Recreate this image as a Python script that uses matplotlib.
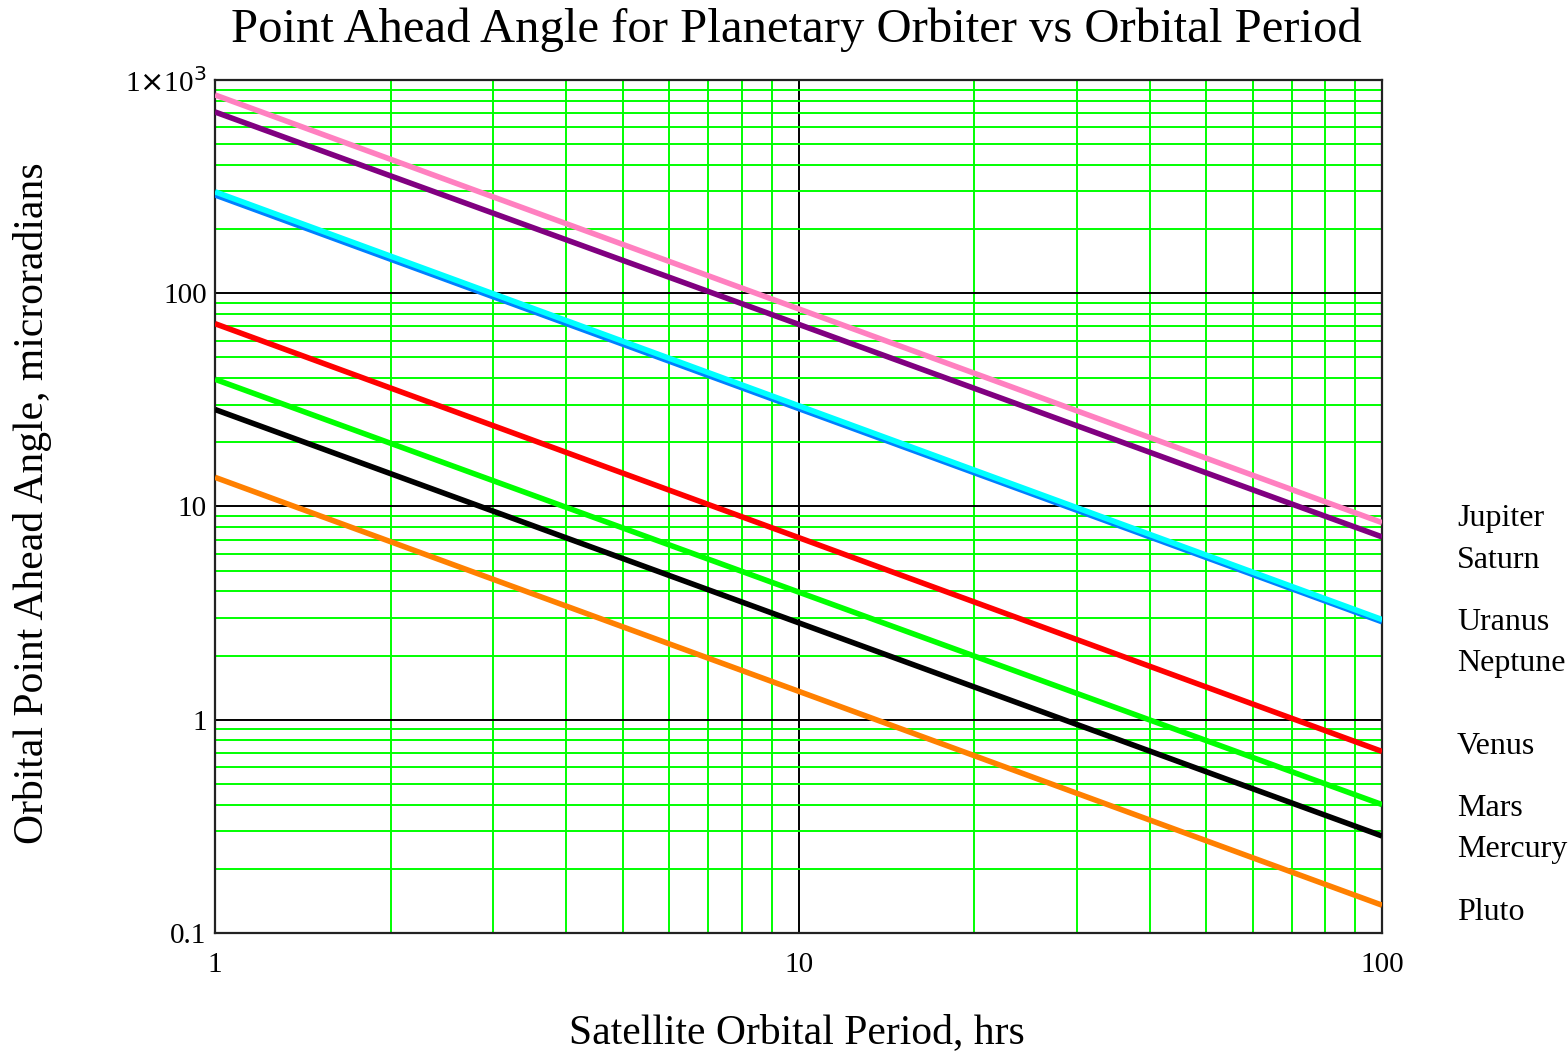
import matplotlib.pyplot as plt
from matplotlib.ticker import LogLocator, FixedLocator, FixedFormatter, NullFormatter

plt.rcParams['font.family'] = ['Liberation Serif', 'DejaVu Serif']

# values at periods 1, 10, 100 hrs
period = [1, 10, 100]
planets = ['Jupiter', 'Saturn', 'Uranus', 'Neptune', 'Venus', 'Mars', 'Mercury', 'Pluto']
jupiter = [851, 84.5, 8.4]
saturn = [708, 71.5, 7.2]
uranus = [299, 29.7, 2.95]
neptune = [289, 28.8, 2.88]
venus = [72, 7.15, 0.71]
mars = [39.5, 3.97, 0.40]
mercury = [28.5, 2.85, 0.285]
pluto = [13.7, 1.36, 0.135]
series = [jupiter, saturn, uranus, neptune, venus, mars, mercury, pluto]
colors = ['#ff80c0', '#800080', '#00ffff', '#0080ff', '#ff0000', '#00ff00', '#000000', '#ff8000']

yticks = [0.1, 1, 10, 100, 1000]
ytick_labels = ['0.1', '1', '10', '100', r'1$\times$10$^3$']
xticks = [1, 10, 100]
xtick_labels = ['1', '10', '100']

fig = plt.figure(figsize=(15.68, 10.51), dpi=100)
ax = fig.add_axes([0.1371, 0.1123, 0.7443, 0.8116])
ax.set_xscale('log')
ax.set_yscale('log')
ax.set_xlim(1, 100)
ax.set_ylim(0.1, 1000)

# draw Neptune before Uranus so cyan sits on top, like the reference
order = [0, 1, 3, 2, 4, 5, 6, 7]
for i in order:
    ax.plot(period, series[i], color=colors[i], lw=4, zorder=3, solid_capstyle='butt')

ax.xaxis.set_major_locator(FixedLocator(xticks))
ax.xaxis.set_major_formatter(FixedFormatter(xtick_labels))
ax.yaxis.set_major_locator(FixedLocator(yticks))
ax.yaxis.set_major_formatter(FixedFormatter(ytick_labels))
ax.xaxis.set_minor_locator(LogLocator(base=10, subs=range(2, 10)))
ax.yaxis.set_minor_locator(LogLocator(base=10, subs=range(2, 10)))
ax.xaxis.set_minor_formatter(NullFormatter())
ax.yaxis.set_minor_formatter(NullFormatter())

ax.grid(which='minor', color='#00ff00', lw=1.4, zorder=1)
ax.grid(which='major', color='black', lw=1.4, zorder=2)
ax.set_axisbelow(True)
ax.tick_params(which='both', length=0, labelsize=21)
ax.tick_params(axis='x', pad=14)
ax.tick_params(axis='y', pad=6)
for s in ax.spines.values():
    s.set_linewidth(1.6)
    s.set_color('#222222')

fig.text(0.508, 0.972, 'Point Ahead Angle for Planetary Orbiter vs Orbital Period',
         ha='center', va='center', fontsize=35)
fig.text(0.508, 0.017, 'Satellite Orbital Period, hrs', ha='center', va='center', fontsize=30)
fig.text(0.021, 0.521, 'Orbital Point Ahead Angle, microradians', ha='center', va='center',
         rotation=90, fontsize=30)

label_y = [518, 560, 622, 663, 746, 808, 850, 913]
for name, yp in zip(planets, label_y):
    fig.text(1457 / 1568, 1 - yp / 1051, name, ha='left', va='center', fontsize=23)

fig.savefig('out.png', dpi=100)
